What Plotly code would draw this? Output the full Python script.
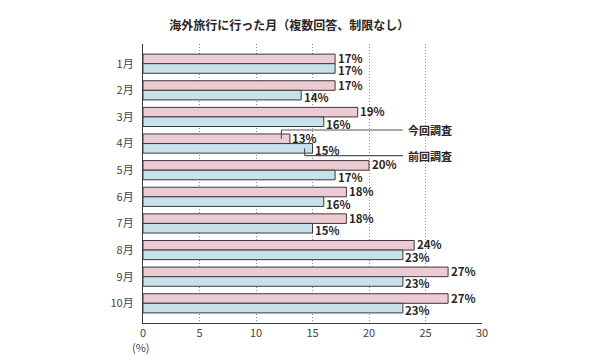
import plotly.graph_objects as go

months = ["1月", "2月", "3月", "4月", "5月", "6月", "7月", "8月", "9月", "10月"]
current = [17, 17, 19, 13, 20, 18, 18, 24, 27, 27]   # 今回調査
previous = [17, 14, 16, 15, 17, 16, 15, 23, 23, 23]  # 前回調査
x_ticks = [0, 5, 10, 15, 20, 25, 30]
title_text = "海外旅行に行った月（複数回答、制限なし）"
legend_current = "今回調査"
legend_previous = "前回調査"
callout_month = "4月"

FONT = "Noto Sans CJK JP"
TXT = "#2b2523"
PINK = "#eecbd2"
BLUE = "#c7e2eb"
EDGE = "#3a3a3a"

BARGAP = 0.28
off = (1 - BARGAP) / 4  # centre offset of each bar inside its group

fig = go.Figure()
for vals, col in [(current, PINK), (previous, BLUE)]:
    fig.add_trace(go.Bar(
        y=months, x=vals, orientation="h",
        marker=dict(color=col, line=dict(color=EDGE, width=1)),
        showlegend=False, hoverinfo="skip",
    ))

# value labels
for vals, sgn, ysh in [(current, -1, 1.0), (previous, 1, -2.0)]:
    for j, v in enumerate(vals):
        fig.add_annotation(x=v, y=j + sgn * off, xref="x", yref="y", text=f"<b>{v}%</b>",
                           showarrow=False, xanchor="left", yanchor="middle",
                           xshift=1.5, yshift=ysh, borderpad=0,
                           font=dict(family=FONT, size=11.5, color=TXT))

fig.update_layout(
    width=600, height=363,
    margin=dict(l=143, r=118, t=44, b=40, autoexpand=False),
    paper_bgcolor="white", plot_bgcolor="white",
    barmode="group", bargap=BARGAP, bargroupgap=0.0,
    font=dict(family=FONT, size=11, color=TXT),
    title=dict(text=f"<b>{title_text}</b>", x=0.482, xanchor="center",
               y=0.93, yanchor="middle", font=dict(family=FONT, size=12, color=TXT)),
)
fig.update_xaxes(
    range=[0, 30], tickvals=x_ticks, ticktext=[str(t) for t in x_ticks],
    showgrid=True, gridcolor="#8a8a8a", griddash="1px,2px", gridwidth=1,
    showline=True, linecolor=EDGE, linewidth=1.3, zeroline=False, automargin=False,
    ticks="", tickfont=dict(family=FONT, size=11, color="#444"),
)
fig.update_yaxes(
    range=[9.74, -0.74], showgrid=False, automargin=False,
    showline=True, linecolor=EDGE, linewidth=1.3,
    ticks="", ticklabelstandoff=6, tickfont=dict(family=FONT, size=11, color="#444"),
)

# callouts for the legend
i = months.index(callout_month)
pc = current[i] - 0.75
pp = previous[i] - 0.7
lx = 23.0
for xv, yb, yl, label in [(pc, i - off, i - 0.51, legend_current),
                          (pp, i + off, i + 0.45, legend_previous)]:
    fig.add_shape(type="line", xref="x", yref="y", x0=xv, x1=xv, y0=yb, y1=yl,
                  line=dict(color="#555", width=1.2))
    fig.add_shape(type="line", xref="x", yref="y", x0=xv, x1=lx, y0=yl, y1=yl,
                  line=dict(color="#555", width=1.2))
    fig.add_trace(go.Scatter(x=[xv], y=[yb], mode="markers", cliponaxis=False,
                             marker=dict(color="#1a1a1a", size=5), showlegend=False,
                             hoverinfo="skip"))
    fig.add_annotation(x=lx, y=yl, xref="x", yref="y", text=f"<b>{label}</b>",
                       showarrow=False, xanchor="left", yanchor="middle", xshift=3,
                       font=dict(family=FONT, size=11, color=TXT))

fig.add_annotation(x=0, y=0, xref="x", yref="paper", text="(%)", showarrow=False,
                   xanchor="center", yanchor="middle", yshift=-24, xshift=-2,
                   font=dict(family=FONT, size=11, color="#444"))

fig.write_html("out.html", post_script="document.body.style.margin='0';",
               config={"displayModeBar": False})
